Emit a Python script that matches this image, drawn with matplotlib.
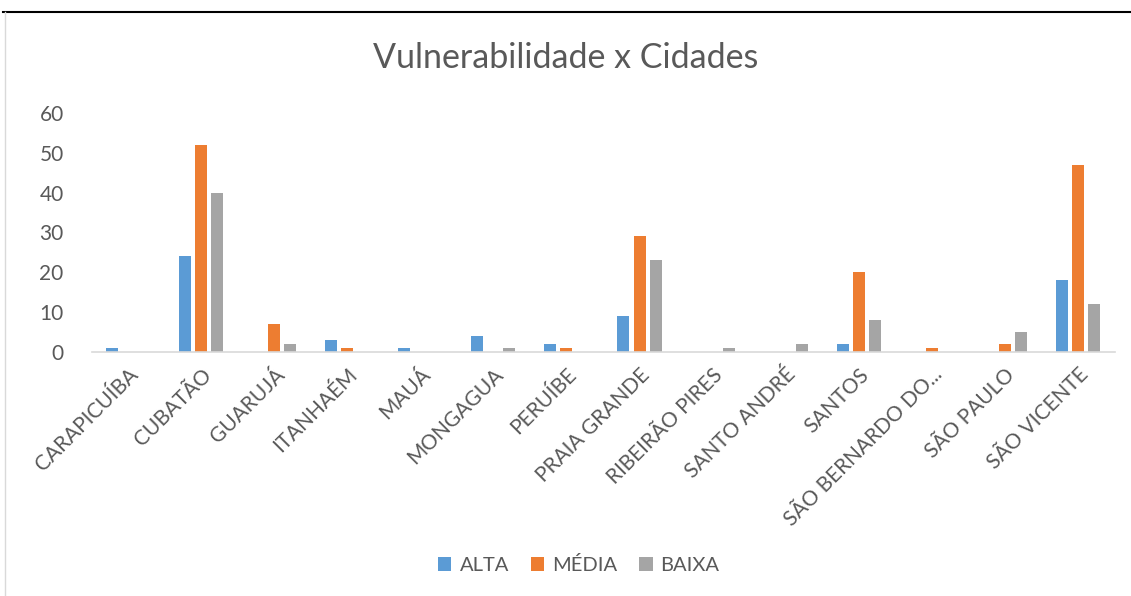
import numpy as np
import matplotlib.pyplot as plt
from matplotlib.lines import Line2D

cidades = ['CARAPICUÍBA', 'CUBATÃO', 'GUARUJÁ', 'ITANHAÉM', 'MAUÁ', 'MONGAGUA',
           'PERUÍBE', 'PRAIA GRANDE', 'RIBEIRÃO PIRES', 'SANTO ANDRÉ', 'SANTOS',
           'SÃO BERNARDO DO...', 'SÃO PAULO', 'SÃO VICENTE']
alta = [1, 24, 0, 3, 1, 4, 2, 9, 0, 0, 2, 0, 0, 18]
media = [0, 52, 7, 1, 0, 0, 1, 29, 0, 0, 20, 1, 2, 47]
baixa = [0, 40, 2, 0, 0, 1, 0, 23, 1, 2, 8, 0, 5, 12]

plt.rcParams['font.family'] = ['Lato', 'DejaVu Sans']

fig = plt.figure(figsize=(11.31, 5.96), dpi=100)
# eixo de 91px a 1114px, y de 113px a 352px
ax = fig.add_axes([91.5 / 1131, 1 - 352 / 596, 1023 / 1131, 239 / 596])

x = np.arange(len(cidades))
passo = 0.22
larg = 0.165
ax.bar(x - passo, alta, larg, color='#5B9BD5', label='ALTA')
ax.bar(x, media, larg, color='#ED7D31', label='MÉDIA')
ax.bar(x + passo, baixa, larg, color='#A5A5A5', label='BAIXA')

ax.set_ylim(0, 60)
ax.set_xlim(-0.5, len(cidades) - 0.5)
ax.set_yticks(range(0, 61, 10))
ax.set_xticks(x)
ax.set_xticklabels(cidades, rotation=45, ha='right', rotation_mode='anchor')
ax.tick_params(axis='both', length=0, colors='#595959')
ax.tick_params(axis='y', pad=20, labelsize=15)
ax.tick_params(axis='x', pad=9, labelsize=15)
for s in ['top', 'right', 'left']:
    ax.spines[s].set_visible(False)
ax.spines['bottom'].set_color('#D9D9D9')
ax.spines['bottom'].set_linewidth(1.2)

fig.text(0.5, 1 - 58 / 596, 'Vulnerabilidade x Cidades', ha='center', va='center',
         fontsize=24.5, color='#595959')

fig.legend(loc='center', bbox_to_anchor=(579 / 1131, 1 - 565 / 596), ncol=3, frameon=False,
           fontsize=14.5, handlelength=0.65, handleheight=0.65, columnspacing=1.1,
           handletextpad=0.4, labelcolor='#595959')

# moldura
fig.add_artist(Line2D([0.003, 1.0], [1 - 12 / 596, 1 - 12 / 596], color='black', lw=1.5))
fig.add_artist(Line2D([5 / 1131, 5 / 1131], [0, 1 - 12 / 596], color='#D9D9D9', lw=1))

fig.savefig('out.png', dpi=100)
